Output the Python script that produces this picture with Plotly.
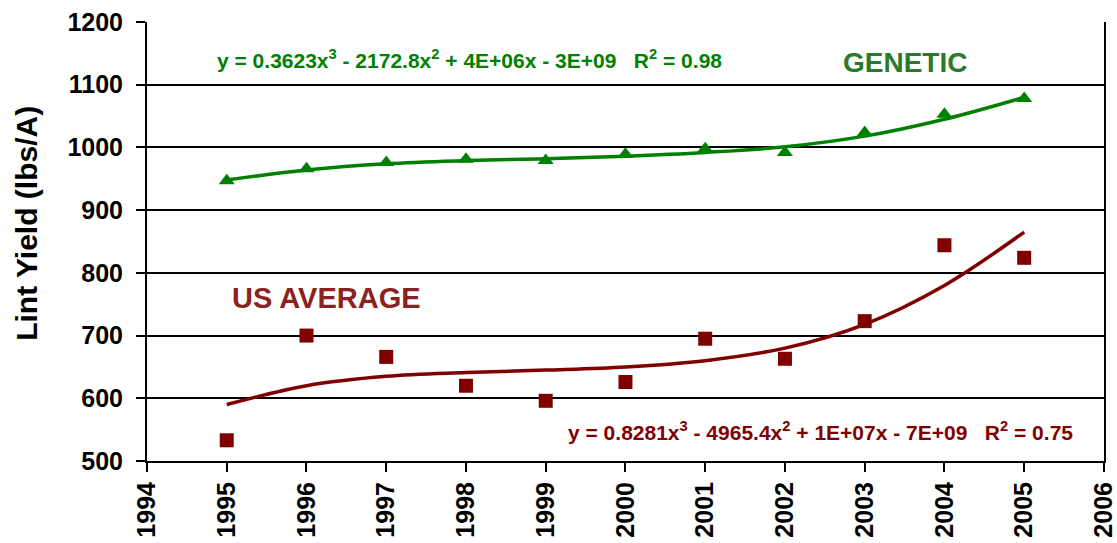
import plotly.graph_objects as go

years = [1995, 1996, 1997, 1998, 1999, 2000, 2001, 2002, 2003, 2004, 2005]
genetic = [947, 966, 976, 981, 979, 989, 998, 992, 1024, 1053, 1078]
us_average = [533, 700, 666, 620, 596, 626, 695, 663, 723, 844, 824]
# trendline values at each year
genetic_trend = [948, 964, 974, 979, 982, 986, 992, 1001, 1018, 1045, 1080]
us_trend = [590, 620, 635, 641, 645, 650, 660, 680, 718, 780, 865]

x_ticks = list(range(1994, 2007))
y_ticks = [500, 600, 700, 800, 900, 1000, 1100, 1200]

GREEN = "#008000"
DARK_RED = "#800000"
FONT = "Liberation Sans, Arial, sans-serif"


def main():
    fig = go.Figure()

    fig.add_trace(go.Scatter(x=years, y=genetic_trend, mode="lines", line=dict(color=GREEN, width=3.5, shape="spline"),
                             showlegend=False, hoverinfo="skip"))
    fig.add_trace(go.Scatter(x=years, y=genetic, mode="markers",
                             marker=dict(symbol="triangle-up", size=14, color=GREEN), showlegend=False))
    fig.add_trace(go.Scatter(x=years, y=us_trend, mode="lines", line=dict(color=DARK_RED, width=3.5, shape="spline"),
                             showlegend=False, hoverinfo="skip"))
    fig.add_trace(go.Scatter(x=years, y=us_average, mode="markers",
                             marker=dict(symbol="square", size=14, color=DARK_RED), showlegend=False))

    fig.add_annotation(x=1998.05, y=1141, showarrow=False,
                       text="<b>y = 0.3623x<sup>3</sup> - 2172.8x<sup>2</sup> + 4E+06x - 3E+09   R<sup>2</sup> = 0.98</b>",
                       font=dict(family=FONT, size=21, color=GREEN))
    fig.add_annotation(x=2002.45, y=548, showarrow=False,
                       text="<b>y = 0.8281x<sup>3</sup> - 4965.4x<sup>2</sup> + 1E+07x - 7E+09   R<sup>2</sup> = 0.75</b>",
                       font=dict(family=FONT, size=21, color=DARK_RED))
    fig.add_annotation(x=2003.5, y=1136, showarrow=False, text="<b>GENETIC</b>",
                       font=dict(family=FONT, size=28, color="#2a7a2a"))
    fig.add_annotation(x=1996.25, y=760, showarrow=False, text="<b>US AVERAGE</b>",
                       font=dict(family=FONT, size=29, color="#8a2222"))

    # y axis title, placed by hand (it sits a little above the axis middle)
    fig.add_annotation(x=-0.146, y=0.542, xref="paper", yref="paper", showarrow=False, textangle=-90,
                       text="<b>Lint Yield (lbs/A)</b>", font=dict(family=FONT, size=30, color="black"))

    fig.update_xaxes(range=[1994, 2006.001], tickvals=x_ticks, tickangle=-90, showgrid=False,
                     showline=True, linecolor="black", linewidth=2, mirror=False,
                     ticks="outside", ticklen=9, tickwidth=2, tickcolor="black", automargin=False,
                     ticklabeloverflow="allow",
                     tickfont=dict(family=FONT, size=25, color="black", weight="bold"), zeroline=False)
    fig.update_yaxes(range=[500, 1200], tickvals=y_ticks, showgrid=True, gridcolor="black", gridwidth=1.5,
                     showline=True, linecolor="black", linewidth=2, mirror=True,
                     ticks="outside", ticklen=9, tickwidth=2, tickcolor="black", automargin=False,
                     ticklabelstandoff=8,
                     tickfont=dict(family=FONT, size=25, color="black", weight="bold"), zeroline=False)

    fig.update_layout(width=1117, height=543, paper_bgcolor="white", plot_bgcolor="white",
                      margin=dict(l=147, r=13, t=22, b=82), font=dict(family=FONT))

    # drop the page's default body margin so the figure sits at the window's corner
    fig.write_html("out.html", config={"displayModeBar": False},
                   post_script="document.body.style.margin='0';document.body.style.overflow='hidden';")


if __name__ == "__main__":
    main()
